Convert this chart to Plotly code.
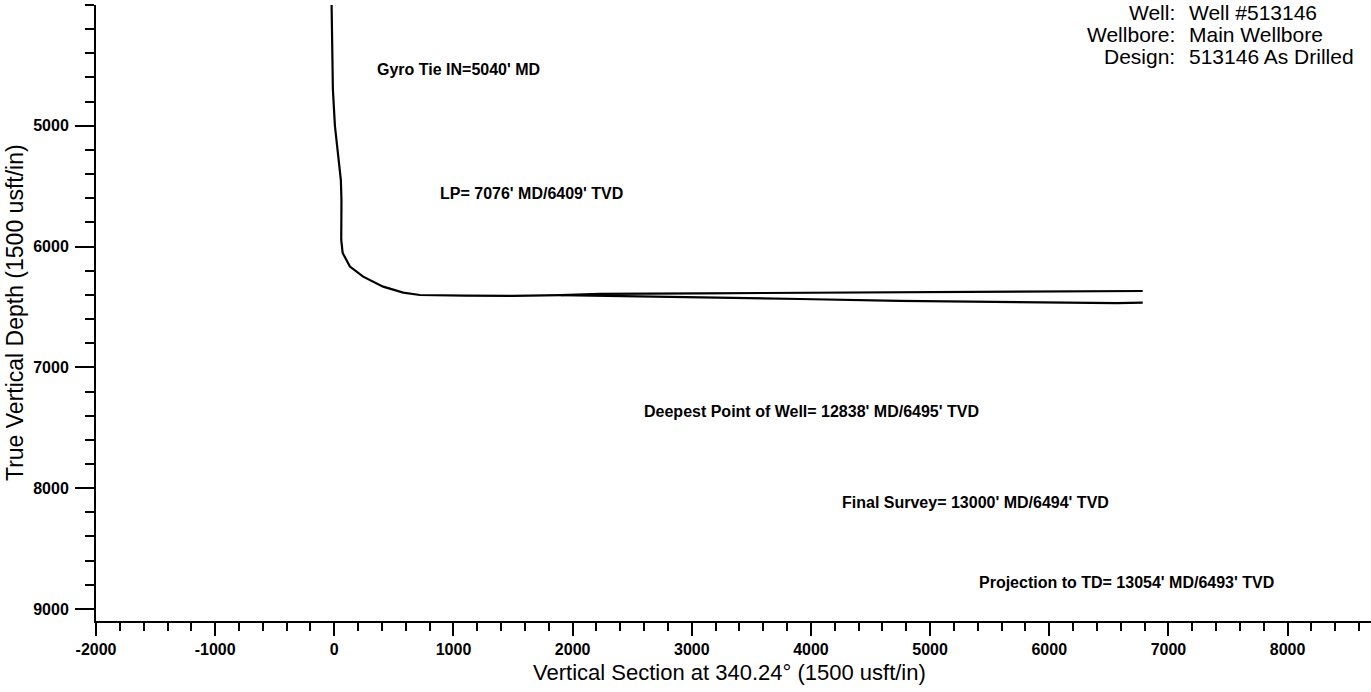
import plotly.graph_objects as go

# ---- data ----
# build section + upper lateral
vs_upper = [-23, -12, 5, 30, 55, 60, 56, 58, 70, 131, 242, 410, 578, 718, 1100, 1500, 1900, 2228, 3067, 4745, 5600, 6566, 6784]
tvd_upper = [3990, 4700, 5000, 5250, 5450, 5620, 5800, 5945, 6053, 6166, 6249, 6332, 6381, 6401, 6406, 6408, 6402, 6392, 6387, 6378, 6373, 6368, 6368]
# lower lateral (splits from the upper one)
vs_lower = [1900, 2421, 3067, 3906, 4745, 5584, 6566, 6784]
tvd_lower = [6402, 6409, 6420, 6434, 6450, 6461, 6469, 6464]

x_tick_vals = [-2000, -1000, 0, 1000, 2000, 3000, 4000, 5000, 6000, 7000, 8000]
x_tick_text = ["-2000", "-1000", "0", "1000", "2000", "3000", "4000", "5000", "6000", "7000", "8000"]
y_tick_vals = [5000, 6000, 7000, 8000, 9000]
y_tick_text = ["5000", "6000", "7000", "8000", "9000"]

note_texts = [
    "Gyro Tie IN=5040' MD",
    "LP= 7076' MD/6409' TVD",
    "Deepest Point of Well= 12838' MD/6495' TVD",
    "Final Survey= 13000' MD/6494' TVD",
    "Projection to TD= 13054' MD/6493' TVD",
]
info_labels = ["Well:", "Wellbore:", "Design:"]
info_values = ["Well #513146", "Main Wellbore", "513146 As Drilled"]

x_title = "Vertical Section at 340.24° (1500 usft/in)"
y_title = "True Vertical Depth (1500 usft/in)"

# ---- layout constants ----
W, H = 1371, 692
L, R, T, B = 96, 0, 5, 71
note_pos = [(341, 4538), (871, 5559), (2578, 7367), (4240, 8122), (5391, 8785)]
info_rows_y = [0.9886, 0.9529, 0.9172]
FONT = "Liberation Sans, Arial, sans-serif"

fig = go.Figure()
fig.add_trace(go.Scatter(x=vs_upper, y=tvd_upper, mode="lines",
                         line=dict(color="black", width=2.2), hoverinfo="skip"))
fig.add_trace(go.Scatter(x=vs_lower, y=tvd_lower, mode="lines",
                         line=dict(color="black", width=2.2), hoverinfo="skip"))

annotations = []
for txt, (ax, ay) in zip(note_texts, note_pos):
    annotations.append(dict(x=ax, y=ay, xref="x", yref="y", text=txt, showarrow=False,
                            xanchor="left", yanchor="middle",
                            font=dict(family=FONT, size=16, color="black", weight="bold")))
for lab, val, yy in zip(info_labels, info_values, info_rows_y):
    annotations.append(dict(x=0.8478, y=yy, xref="paper", yref="paper", text=lab,
                            showarrow=False, xanchor="right", yanchor="middle",
                            font=dict(family=FONT, size=21, color="black")))
    annotations.append(dict(x=0.8557, y=yy, xref="paper", yref="paper", text=val,
                            showarrow=False, xanchor="left", yanchor="middle",
                            font=dict(family=FONT, size=21, color="black")))
annotations.append(dict(x=0.4965, y=-0.0844, xref="paper", yref="paper", text=x_title,
                        showarrow=False, xanchor="center", yanchor="middle",
                        font=dict(family=FONT, size=22, color="black")))
annotations.append(dict(x=-0.0635, y=0.5, xref="paper", yref="paper", text=y_title,
                        showarrow=False, xanchor="center", yanchor="middle", textangle=-90,
                        font=dict(family=FONT, size=23, color="black")))

fig.update_layout(
    width=W, height=H,
    margin=dict(l=L, r=R, t=T, b=B, pad=0),
    paper_bgcolor="white", plot_bgcolor="white",
    showlegend=False,
    annotations=annotations,
    xaxis=dict(range=[-2000, 8700], tickvals=x_tick_vals, ticktext=x_tick_text,
               ticks="outside", ticklen=13,
               tickwidth=2, tickcolor="black", showline=True, linecolor="black", linewidth=2,
               showgrid=False, zeroline=False, ticklabelstandoff=0,
               tickfont=dict(family=FONT, size=16, color="black", weight="bold"),
               minor=dict(dtick=200, ticks="outside", ticklen=8, tickwidth=1.5,
                          tickcolor="black", showgrid=False)),
    yaxis=dict(range=[9100, 4000], tickvals=y_tick_vals, ticktext=y_tick_text,
               ticks="outside", ticklen=19,
               tickwidth=2, tickcolor="black", showline=True, linecolor="black", linewidth=2,
               showgrid=False, zeroline=False, ticklabelstandoff=3,
               tickfont=dict(family=FONT, size=16, color="black", weight="bold"),
               minor=dict(dtick=200, ticks="outside", ticklen=9, tickwidth=1.5,
                          tickcolor="black", showgrid=False)),
)

fig.write_html("out.html", config={"displayModeBar": False},
               post_script="document.body.style.margin='0';document.body.style.overflow='hidden';")
